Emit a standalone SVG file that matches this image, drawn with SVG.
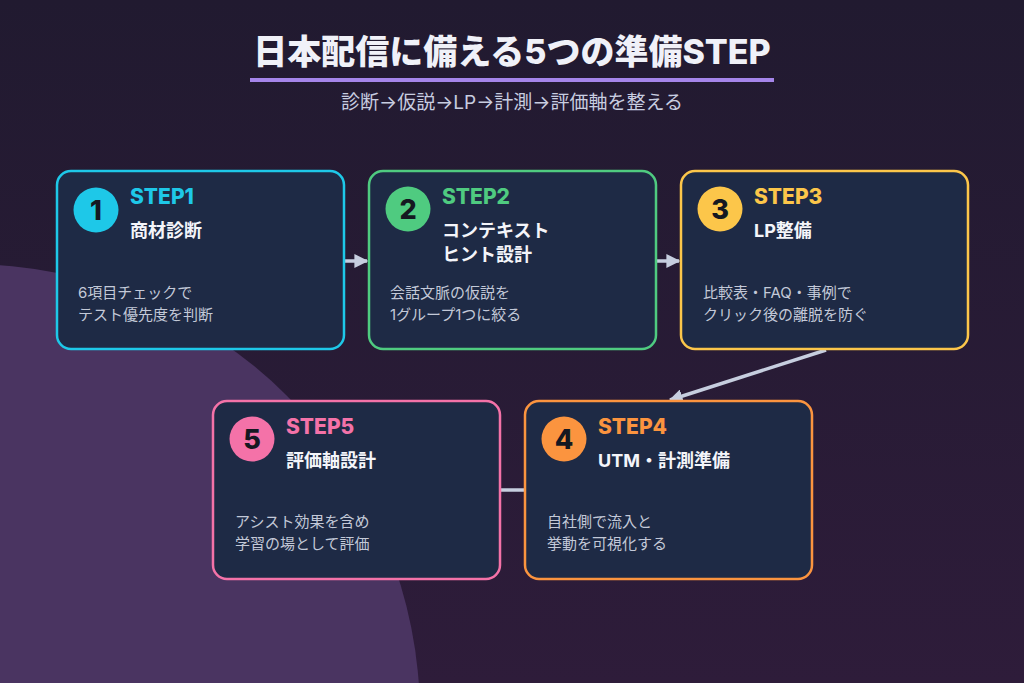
<svg xmlns="http://www.w3.org/2000/svg" width="1024" height="683" viewBox="0 0 1024 683">
  <defs>
    <linearGradient id="bg" x1="0" y1="0" x2="0" y2="1">
      <stop offset="0" stop-color="#211a30"/>
      <stop offset="1" stop-color="#2e1c3a"/>
    </linearGradient>
    <marker id="ah" viewBox="0 0 10 10" refX="9" refY="5" markerWidth="4" markerHeight="4" orient="auto" markerUnits="strokeWidth">
      <path d="M0,0 L10,5 L0,10 Z" fill="#c6cedf"/>
    </marker>
    <style>
      .box { fill: #1e2a45; stroke-width: 2.5; }
      .jp { font-family: "Inter", "Noto Sans CJK JP", sans-serif; }
      .step { font-size: 21px; font-weight: 800; }
      .ttl { font-size: 18px; font-weight: 700; fill: #f4f5fa; }
      .desc { font-size: 15px; fill: #c3c9d8; }
      .num { font-size: 27px; font-weight: 800; fill: #151821; text-anchor: middle; }
      .conn { stroke: #c6cedf; stroke-width: 3.5; fill: none; }
    </style>
  </defs>
  <rect width="1024" height="683" fill="url(#bg)"/>
  <circle cx="-32" cy="716" r="452" fill="#4a3461"/>

  <g id="title">
    <text x="512" y="64" text-anchor="middle" class="jp" font-size="34" font-weight="800" fill="#f0f1f8">日本配信に備える5つの準備STEP</text>
    <rect x="250" y="78" width="524" height="4" fill="#a585ea"/>
    <text x="512" y="109" text-anchor="middle" class="jp" font-size="19" fill="#c8cde0">診断→仮説→LP→計測→評価軸を整える</text>
  </g>

  <g id="connectors">
    <line class="conn" x1="344" y1="261" x2="367" y2="261" marker-end="url(#ah)"/>
    <line class="conn" x1="656" y1="261" x2="679" y2="261" marker-end="url(#ah)"/>
    <line class="conn" x1="826" y1="350" x2="670" y2="400" marker-end="url(#ah)" stroke-width="3"/>
    <line class="conn" x1="500" y1="490" x2="525" y2="490"/>
  </g>

  <g id="step1" class="jp">
    <rect class="box" x="57" y="171" width="287" height="178" rx="14" stroke="#1ec8e8"/>
    <circle cx="96" cy="210" r="22.5" fill="#1ec8e8"/>
    <text class="num" x="96" y="220">1</text>
    <text class="step" x="130" y="204" fill="#1ec8e8">STEP1</text>
    <text class="ttl" x="130" y="237">商材診断</text>
    <text class="desc" x="78" y="298">6項目チェックで</text>
    <text class="desc" x="78" y="320">テスト優先度を判断</text>
  </g>

  <g id="step2" class="jp">
    <rect class="box" x="369" y="171" width="287" height="178" rx="14" stroke="#4fcb80"/>
    <circle cx="408" cy="209" r="22.5" fill="#4fcb80"/>
    <text class="num" x="408" y="219">2</text>
    <text class="step" x="442" y="204" fill="#4fcb80">STEP2</text>
    <text class="ttl" x="442" y="237">コンテキスト</text>
    <text class="ttl" x="442" y="261">ヒント設計</text>
    <text class="desc" x="390" y="298">会話文脈の仮説を</text>
    <text class="desc" x="390" y="320">1グループ1つに絞る</text>
  </g>

  <g id="step3" class="jp">
    <rect class="box" x="681" y="171" width="287" height="178" rx="14" stroke="#fcc64a"/>
    <circle cx="720" cy="209" r="22.5" fill="#fcc64a"/>
    <text class="num" x="720" y="219">3</text>
    <text class="step" x="754" y="204" fill="#fcc64a">STEP3</text>
    <text class="ttl" x="754" y="237">LP整備</text>
    <text class="desc" x="703" y="298">比較表・FAQ・事例で</text>
    <text class="desc" x="703" y="320">クリック後の離脱を防ぐ</text>
  </g>

  <g id="step4" class="jp">
    <rect class="box" x="525" y="401" width="287" height="178" rx="14" stroke="#fb943f"/>
    <circle cx="564" cy="439" r="22.5" fill="#fb943f"/>
    <text class="num" x="564" y="449">4</text>
    <text class="step" x="598" y="434" fill="#fb943f">STEP4</text>
    <text class="ttl" x="598" y="467">UTM・計測準備</text>
    <text class="desc" x="547" y="527">自社側で流入と</text>
    <text class="desc" x="547" y="549">挙動を可視化する</text>
  </g>

  <g id="step5" class="jp">
    <rect class="box" x="213" y="401" width="287" height="178" rx="14" stroke="#f472a8"/>
    <circle cx="252" cy="439" r="22.5" fill="#f472a8"/>
    <text class="num" x="252" y="449">5</text>
    <text class="step" x="286" y="434" fill="#f472a8">STEP5</text>
    <text class="ttl" x="286" y="467">評価軸設計</text>
    <text class="desc" x="235" y="527">アシスト効果を含め</text>
    <text class="desc" x="235" y="549">学習の場として評価</text>
  </g>
</svg>
